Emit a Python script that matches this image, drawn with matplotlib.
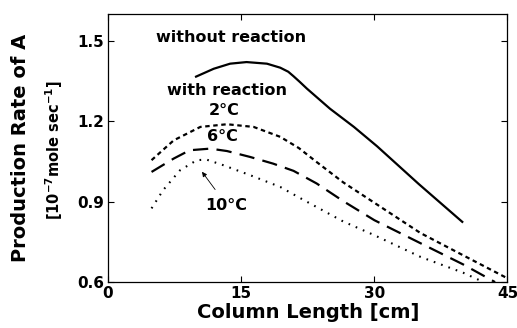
import matplotlib
matplotlib.use("Agg")
import matplotlib.pyplot as plt

plt.rcParams['font.family'] = ['DejaVu Sans']
plt.rcParams['font.weight'] = 'bold'
plt.rcParams['mathtext.default'] = 'bf'
plt.rcParams['lines.scale_dashes'] = False

# without reaction
x_nr = [9.8, 11.9, 13.75, 15.6, 17.9, 19.4, 20.3, 20.9, 21.6, 22.4, 25.0, 27.7, 30.3, 35.0, 40.0]
y_nr = [1.365, 1.396, 1.415, 1.421, 1.415, 1.400, 1.385, 1.368, 1.347, 1.322, 1.247, 1.179, 1.107, 0.966, 0.822]

# with reaction, 2 C
x_2 = [4.9, 7.4, 10.4, 13.4, 16.4, 19.4, 21.5, 23.5, 26.5, 30.0, 35.2, 40.0, 45.0]
y_2 = [1.055, 1.129, 1.179, 1.189, 1.179, 1.142, 1.100, 1.048, 0.972, 0.896, 0.783, 0.700, 0.614]

# with reaction, 6 C
x_6 = [4.9, 7.4, 9.2, 11.5, 13.4, 16.0, 18.6, 20.9, 23.5, 26.5, 30.0, 35.2, 40.0, 43.6]
y_6 = [1.011, 1.061, 1.092, 1.098, 1.089, 1.067, 1.042, 1.015, 0.968, 0.902, 0.831, 0.745, 0.666, 0.600]

# with reaction, 10 C
x_10 = [4.9, 6.2, 8.1, 10.0, 11.1, 13.0, 16.0, 19.4, 21.5, 23.5, 26.5, 30.0, 35.2, 40.0, 42.3]
y_10 = [0.875, 0.943, 1.017, 1.055, 1.057, 1.036, 0.999, 0.955, 0.916, 0.880, 0.826, 0.775, 0.694, 0.635, 0.600]

xticks = [0, 15, 30, 45]
yticks = [0.6, 0.9, 1.2, 1.5]

fig = plt.figure(figsize=(5.17, 3.28), dpi=100)
ax = fig.add_axes([0.209, 0.140, 0.7726, 0.817])

ax.plot(x_nr, y_nr, color='black', lw=1.6, solid_capstyle='butt')
ax.plot(x_2, y_2, color='black', lw=1.6, dashes=(3.2, 2.6))
ax.plot(x_6, y_6, color='black', lw=1.6, dashes=(11, 6))
ax.plot(x_10, y_10, color='black', lw=1.5, dashes=(1.2, 4.4))

ax.set_xlim(0, 45)
ax.set_ylim(0.6, 1.6)
ax.set_xticks(xticks)
ax.set_yticks(yticks)
ax.set_xticklabels([str(t) for t in xticks], fontsize=11, fontweight='bold')
ax.set_yticklabels(['%.1f' % t for t in yticks], fontsize=11, fontweight='bold')
ax.tick_params(direction='in', length=4, width=0.8, top=True, right=True, pad=3)
for s in ax.spines.values():
    s.set_linewidth(0.9)

fs = 11.5
ax.text(13.9, 1.513, 'without reaction', ha='center', va='center', fontsize=fs, fontweight='bold')
ax.text(13.4, 1.316, 'with reaction', ha='center', va='center', fontsize=fs, fontweight='bold')
ax.text(13.1, 1.241, '2°C', ha='center', va='center', fontsize=fs, fontweight='bold')
ax.text(12.9, 1.144, '6°C', ha='center', va='center', fontsize=fs, fontweight='bold')
ax.text(13.3, 0.887, '10°C', ha='center', va='center', fontsize=fs, fontweight='bold')
ax.annotate('', xy=(10.4, 1.02), xytext=(12.25, 0.937),
            arrowprops=dict(arrowstyle='-|>', color='black', lw=0.6, mutation_scale=7))

ax.set_xlabel('Column Length [cm]', fontsize=14, fontweight='bold', labelpad=1)
fig.text(0.040, 0.548, 'Production Rate of A', rotation=90, ha='center', va='center',
         fontsize=14, fontweight='bold')
fig.text(0.104, 0.543, r'[10$^{-7}$mole sec$^{-1}$]', rotation=90, ha='center', va='center',
         fontsize=10.5, fontweight='bold')

fig.savefig('out.png', dpi=100)
